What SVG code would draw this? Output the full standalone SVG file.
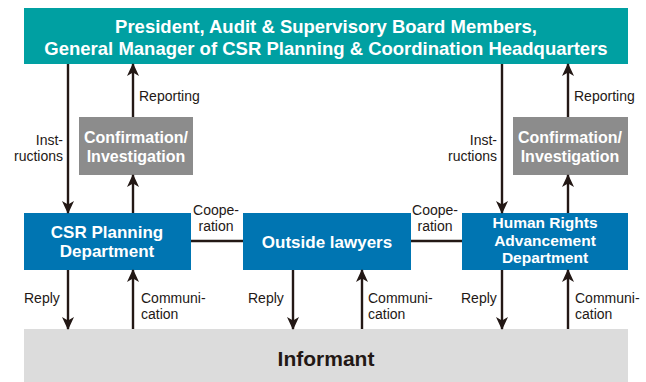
<svg xmlns="http://www.w3.org/2000/svg" width="646" height="382" viewBox="0 0 646 382">
<defs>
<marker id="ah" markerWidth="13" markerHeight="12" refX="12" refY="6" orient="auto" markerUnits="userSpaceOnUse" viewBox="0 0 13 12">
<path d="M0,0 L13,6 L0,12 L3.5,6 Z" fill="#231815"/>
</marker>
</defs>
<style>
.top{fill:#00a0a2}
.gray{fill:#8c8c8c}
.blue{fill:#0075b2}
.inf{fill:#dcdcdc}
.bt{font-family:"Liberation Sans",Arial,sans-serif;font-weight:bold;fill:#fff;text-anchor:middle}
.lb{font-family:"Liberation Sans",Arial,sans-serif;font-size:14px;fill:#231815}
.ln{stroke:#231815;stroke-width:2.4;fill:none}
</style>
<rect width="646" height="382" fill="#fff"/>
<g id="top">
<rect class="top" x="24" y="8" width="604" height="56"/>
<text class="bt" font-size="18.5" x="326" y="33">President, Audit &amp; Supervisory Board Members,</text>
<text class="bt" font-size="18.5" x="326" y="55">General Manager of CSR Planning &amp; Coordination Headquarters</text>
</g>
<g id="confirm-left">
<rect class="gray" x="79" y="117" width="114" height="58"/>
<text class="bt" font-size="16" x="136" y="143">Confirmation/</text>
<text class="bt" font-size="16" x="136" y="162">Investigation</text>
</g>
<g id="confirm-right">
<rect class="gray" x="513" y="117" width="115" height="58"/>
<text class="bt" font-size="16" x="570" y="143">Confirmation/</text>
<text class="bt" font-size="16" x="570" y="162">Investigation</text>
</g>
<g id="csr">
<rect class="blue" x="24" y="213" width="167" height="57"/>
<text class="bt" font-size="17" x="107" y="238">CSR Planning</text>
<text class="bt" font-size="17" x="107" y="257">Department</text>
</g>
<g id="lawyers">
<rect class="blue" x="243" y="213" width="168" height="57"/>
<text class="bt" font-size="17" x="327" y="248">Outside lawyers</text>
</g>
<g id="hr">
<rect class="blue" x="462" y="213" width="166" height="57"/>
<text class="bt" font-size="15.5" x="545" y="228">Human Rights</text>
<text class="bt" font-size="15.5" x="545" y="245.5">Advancement</text>
<text class="bt" font-size="15.5" x="545" y="263">Department</text>
</g>
<g id="informant">
<rect class="inf" x="24" y="329" width="604" height="53"/>
<text class="bt" font-size="21" x="326" y="366" style="fill:#231815">Informant</text>
</g>
<g id="connectors">
<line class="ln" x1="68" y1="64" x2="68" y2="213" marker-end="url(#ah)"/>
<line class="ln" x1="133" y1="117" x2="133" y2="64" marker-end="url(#ah)"/>
<line class="ln" x1="133" y1="213" x2="133" y2="175" marker-end="url(#ah)"/>
<line class="ln" x1="502" y1="64" x2="502" y2="213" marker-end="url(#ah)"/>
<line class="ln" x1="568" y1="117" x2="568" y2="64" marker-end="url(#ah)"/>
<line class="ln" x1="568" y1="213" x2="568" y2="175" marker-end="url(#ah)"/>
<line class="ln" x1="191" y1="241" x2="243" y2="241"/>
<line class="ln" x1="411" y1="241" x2="462" y2="241"/>
<line class="ln" x1="68" y1="270" x2="68" y2="329" marker-end="url(#ah)"/>
<line class="ln" x1="133" y1="329" x2="133" y2="270" marker-end="url(#ah)"/>
<line class="ln" x1="293" y1="270" x2="293" y2="329" marker-end="url(#ah)"/>
<line class="ln" x1="362" y1="329" x2="362" y2="270" marker-end="url(#ah)"/>
<line class="ln" x1="502" y1="270" x2="502" y2="329" marker-end="url(#ah)"/>
<line class="ln" x1="568" y1="329" x2="568" y2="270" marker-end="url(#ah)"/>
<text class="lb" x="139" y="101">Reporting</text>
<text class="lb" x="574" y="101">Reporting</text>
<text class="lb" x="63" y="145" text-anchor="end">Inst-</text>
<text class="lb" x="63" y="161" text-anchor="end">ructions</text>
<text class="lb" x="497" y="145" text-anchor="end">Inst-</text>
<text class="lb" x="497" y="161" text-anchor="end">ructions</text>
<text class="lb" x="216" y="215" text-anchor="middle">Coope-</text>
<text class="lb" x="216" y="231" text-anchor="middle">ration</text>
<text class="lb" x="435" y="215" text-anchor="middle">Coope-</text>
<text class="lb" x="435" y="231" text-anchor="middle">ration</text>
<text class="lb" x="24" y="303">Reply</text>
<text class="lb" x="141" y="303">Communi-</text>
<text class="lb" x="141" y="319">cation</text>
<text class="lb" x="248" y="303">Reply</text>
<text class="lb" x="368" y="303">Communi-</text>
<text class="lb" x="368" y="319">cation</text>
<text class="lb" x="461" y="303">Reply</text>
<text class="lb" x="575" y="303">Communi-</text>
<text class="lb" x="575" y="319">cation</text>
</g>
</svg>
